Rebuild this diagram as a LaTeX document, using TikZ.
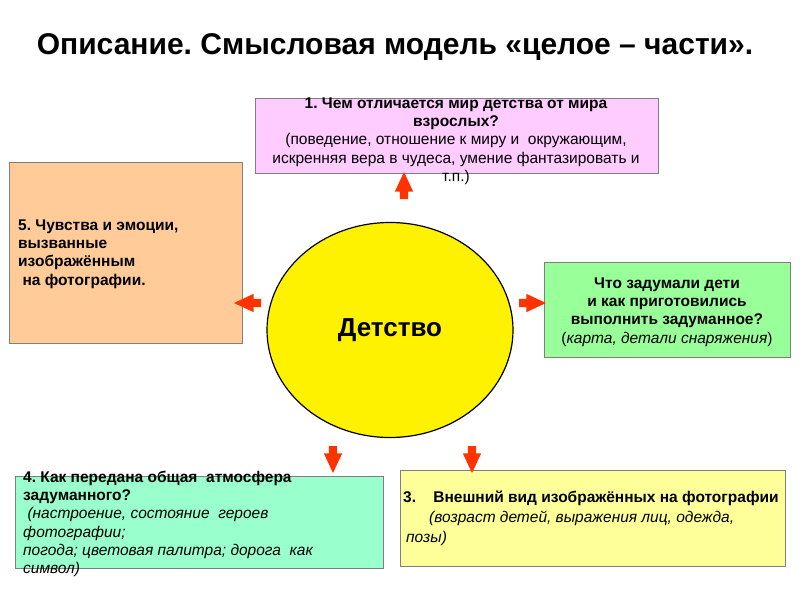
\documentclass[tikz,border=0pt]{standalone}
\usepackage{fontspec}
\setmainfont{Liberation Sans}
\usetikzlibrary{shapes.geometric,shapes.arrows,positioning}
\definecolor{rozov}{HTML}{FFCCFF}
\definecolor{persik}{HTML}{FFCC99}
\definecolor{salat}{HTML}{99FF99}
\definecolor{myata}{HTML}{99FFCC}
\definecolor{limon}{HTML}{FFFF99}
\definecolor{strelka}{HTML}{FF3300}
\definecolor{ramka}{HTML}{7F7F7F}
\tikzset{pole/.style={draw=ramka, line width=0.9pt, rectangle, inner sep=0pt},
  txt/.style={inner sep=0pt, font=\fontsize{15.5}{18.3}\selectfont},
  blk/.style={single arrow, fill=strelka, draw=none, inner sep=4pt, minimum height=27pt,
    single arrow head extend=5pt, single arrow tip angle=50, single arrow head indent=0pt}}
\frenchspacing

\begin{document}
\begin{tikzpicture}[x=1pt, y=-1pt]
  \useasboundingbox (0,0) rectangle (800,600);
  % title
  \node[font=\fontsize{30}{34}\selectfont\bfseries] (title) at (395,47)
    {Описание. Смысловая модель «целое – части».};
  % boxes
  \node[pole, fill=rozov, minimum width=403pt, minimum height=75pt] (mir) at (456.5,135.5) {};
  \node[pole, fill=persik, minimum width=233pt, minimum height=181pt] (chuv) at (125.5,252.5) {};
  \node[pole, fill=salat, minimum width=246pt, minimum height=95pt] (zam) at (667,309.5) {};
  \node[pole, fill=myata, minimum width=368pt, minimum height=92pt] (atm) at (199,522) {};
  \node[pole, fill=limon, minimum width=385pt, minimum height=96pt] (vid) at (592.5,518) {};
  % centre
  \node[ellipse, draw, line width=1.2pt, fill=yellow, minimum width=246pt, minimum height=215pt,
    font=\fontsize{26}{30}\selectfont\bfseries] (det) at (390,330) {Детство};
  % texts
  \node[txt, align=center] (mirT) at (456,141)
    {\textbf{1. Чем отличается мир детства от мира}\\ \textbf{взрослых?}\\
     (поведение, отношение к миру и\ \ окружающим,\\
     искренняя вера в чудеса, умение фантазировать и\\ т.п.)};
  \node[txt, align=left, anchor=west] (chuvT) at (18,254)
    {\textbf{5. Чувства и эмоции,}\\ \textbf{вызванные}\\ \textbf{изображённым}\\ \textbf{\ на фотографии.}};
  \node[txt, align=center] (zamT) at (667,312)
    {\textbf{Что задумали дети}\\ \textbf{и как приготовились}\\ \textbf{выполнить задуманное?}\\
     (\textit{карта, детали снаряжения})};
  \node[txt, align=left, anchor=west] (atmT) at (23,524)
    {\textbf{4. Как передана общая\ \ атмосфера}\\ \textbf{задуманного?}\\
     \textit{\ (настроение, состояние\ \ героев}\\ \textit{фотографии;}\\
     \textit{погода; цветовая палитра; дорога\ \ как}\\ \textit{символ)}};
  \node[txt, align=left, anchor=west, font=\fontsize{15.5}{20}\selectfont] (vidT) at (403,518)
    {\textbf{3.\ \ \ \ Внешний вид изображённых на фотографии}\\
     \hspace*{26pt}\textit{(возраст детей, выражения лиц, одежда,}\\
     \hspace*{3pt}\textit{позы)}};
  % arrows
  \node[blk, rotate=90] (sUp) at (404,190) {};
  \node[blk, rotate=180] (sLeft) at (252,303) {};
  \node[blk] (sRight) at (528,303) {};
  \node[blk, rotate=-90] (sDownL) at (333,455) {};
  \node[blk, rotate=-90] (sDownR) at (472,455) {};
\end{tikzpicture}
\end{document}
